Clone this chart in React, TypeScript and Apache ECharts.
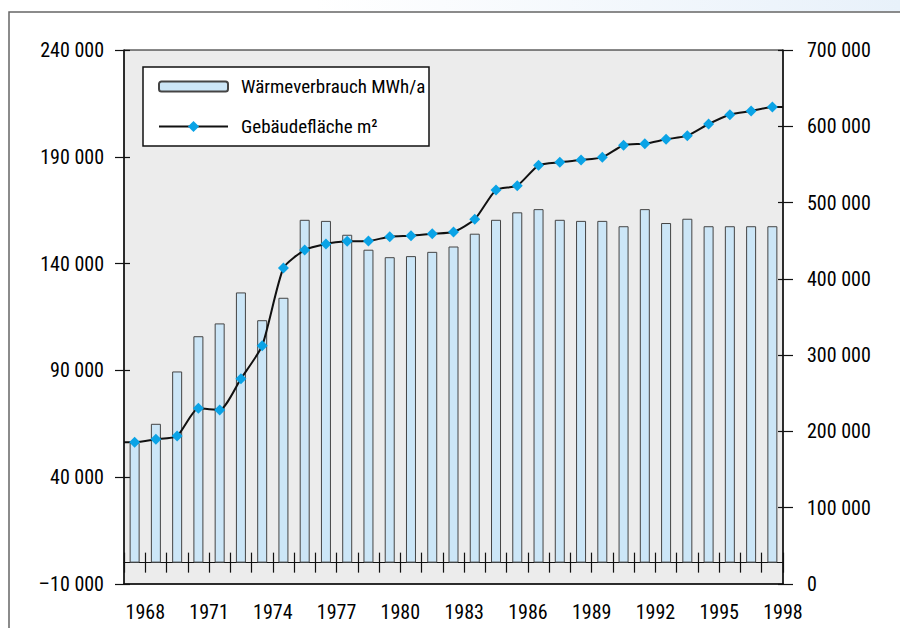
import React, { useEffect, useRef } from "react";
import * as echarts from "echarts";

// ---- data ----
const years = [
  1968, 1969, 1970, 1971, 1972, 1973, 1974, 1975, 1976, 1977, 1978, 1979, 1980, 1981, 1982, 1983,
  1984, 1985, 1986, 1987, 1988, 1989, 1990, 1991, 1992, 1993, 1994, 1995, 1996, 1997, 1998,
];
const heatMWh = [
  56000, 65000, 89500, 106000, 112000, 126500, 113500, 124000, 160500, 160000, 153500, 146500,
  143000, 143500, 145500, 148000, 154000, 160500, 164000, 165500, 160500, 160000, 160000, 157500,
  165500, 159000, 161000, 157500, 157500, 157500, 157500,
];
const floorArea = [
  185800, 189700, 194000, 230300, 228100, 269200, 312400, 414200, 437800, 445700, 449200, 449600,
  455300, 456600, 459200, 461400, 478100, 516500, 522200, 548800, 552800, 555800, 559300, 575100,
  577200, 582900, 587700, 603000, 615200, 620000, 625300,
];
const xTickLabels = ["1968", "1971", "1974", "1977", "1980", "1983", "1986", "1989", "1992", "1995", "1998"];
const leftTickLabels = ["–10 000", "40 000", "90 000", "140 000", "190 000", "240 000"];
const leftMin = -10000;
const leftMax = 240000;
const rightMin = 0;
const rightMax = 700000;
const rightInterval = 100000;
const xMin = 1967;
const xMax = 1998;

const seriesNames = ["Wärmeverbrauch MWh/a", "Gebäudefläche m²"];

const FONT = "'Roboto Condensed', 'Liberation Sans Narrow', 'DejaVu Sans Condensed', sans-serif";

const fmtThousands = (v: number) => String(v).replace(/\B(?=(\d{3})+(?!\d))/g, " ");

export default function App() {
  const ref = useRef<HTMLDivElement>(null);

  useEffect(() => {
    if (!ref.current) return;
    const chart = echarts.init(ref.current, undefined, { renderer: "svg" });

    const barData = years.map((y, i) => [y - 0.5, heatMWh[i]]);
    const lineData: any[] = [
      { value: [xMin, floorArea[0]], symbol: "none" },
      ...years.map((y, i) => [y - 0.5, floorArea[i]]),
      { value: [xMax, floorArea[floorArea.length - 1]], symbol: "none" },
    ];

    const labelStyle = { color: "#000", fontFamily: FONT, fontSize: 20 };
    const legendText = { color: "#000", fontFamily: FONT, fontSize: 19, padding: [0, 0, 0, 8] };

    const option: any = {
      animation: false,
      backgroundColor: "#ffffff",
      textStyle: { fontFamily: FONT },
      graphic: [
        {
          type: "rect",
          z: 0,
          silent: true,
          shape: { x: 0, y: 0, width: 900, height: 11.5 },
          style: {
            fill: new echarts.graphic.LinearGradient(0, 0, 1, 0, [
              { offset: 0, color: "#ffffff" },
              { offset: 0.35, color: "#ffffff" },
              { offset: 1, color: "#e8f1fa" },
            ]),
          },
        },
        {
          type: "rect",
          z: 0,
          silent: true,
          shape: { x: 9, y: 12, width: 1000, height: 1000 },
          style: { fill: "none", stroke: "#666", lineWidth: 1.5 },
        },
        {
          type: "rect",
          z: 3,
          silent: true,
          shape: { x: 143, y: 67, width: 286, height: 79 },
          style: { fill: "#ffffff", stroke: "#111", lineWidth: 1.5 },
        },
      ],
      grid: {
        left: 124,
        right: 117,
        top: 50,
        bottom: 44,
        show: true,
        backgroundColor: "#ececec",
        borderColor: "#111",
        borderWidth: 1,
        containLabel: false,
      },
      legend: [
        {
          data: [seriesNames[0]],
          left: 158,
          top: 77,
          itemWidth: 69,
          itemHeight: 10,
          itemGap: 0,
          padding: 0,
          textStyle: legendText,
          selectedMode: false,
        },
        {
          data: [seriesNames[1]],
          left: 158,
          top: 117,
          itemWidth: 69,
          itemHeight: 14,
          itemGap: 0,
          padding: 0,
          textStyle: legendText,
          selectedMode: false,
        },
      ],
      xAxis: [
        {
          type: "value",
          min: xMin,
          max: xMax,
          interval: 1,
          position: "bottom",
          axisLine: { show: true, onZero: false, lineStyle: { color: "#111", width: 1.5 } },
          axisTick: { show: false },
          splitLine: { show: false },
          axisLabel: {
            ...labelStyle,
            margin: 18,
            formatter: (v: number) => (xTickLabels.includes(String(v)) ? String(v) : ""),
          },
        },
        {
          type: "value",
          min: xMin,
          max: xMax,
          interval: 1,
          position: "bottom",
          axisLine: { show: true, onZero: true, onZeroAxisIndex: 0, lineStyle: { color: "#111", width: 1.2 } },
          axisTick: { show: true, inside: true, length: 10, lineStyle: { color: "#111", width: 1.2 } },
          splitLine: { show: false },
          axisLabel: { show: false },
        },
        {
          type: "value",
          min: xMin,
          max: xMax,
          interval: 1,
          position: "bottom",
          axisLine: { show: false, onZero: true, onZeroAxisIndex: 0 },
          axisTick: { show: true, inside: false, length: 10, lineStyle: { color: "#111", width: 1.2 } },
          splitLine: { show: false },
          axisLabel: { show: false },
        },
      ],
      yAxis: [
        {
          type: "value",
          min: leftMin,
          max: leftMax,
          show: false,
          splitLine: { show: false },
        },
        {
          type: "category",
          data: leftTickLabels,
          boundaryGap: false,
          position: "left",
          axisLine: { show: true, onZero: false, lineStyle: { color: "#111", width: 1.5 } },
          axisTick: { show: true, inside: false, length: 9, lineStyle: { color: "#111", width: 1.2 } },
          splitLine: { show: false },
          axisLabel: { ...labelStyle, margin: 20, interval: 0 },
        },
        {
          type: "category",
          data: leftTickLabels,
          boundaryGap: false,
          position: "left",
          axisLine: { show: false, onZero: false },
          axisTick: { show: true, inside: true, length: 6, lineStyle: { color: "#111", width: 1.2 } },
          splitLine: { show: false },
          axisLabel: { show: false },
        },
        {
          type: "value",
          min: rightMin,
          max: rightMax,
          interval: rightInterval,
          position: "right",
          axisLine: { show: true, onZero: false, lineStyle: { color: "#111", width: 1.5 } },
          axisTick: { show: true, inside: false, length: 10, lineStyle: { color: "#111", width: 1.2 } },
          splitLine: { show: false },
          axisLabel: { ...labelStyle, margin: 24, formatter: (v: number) => fmtThousands(v) },
        },
        {
          type: "value",
          min: rightMin,
          max: rightMax,
          interval: rightInterval,
          position: "right",
          axisLine: { show: false, onZero: false },
          axisTick: { show: true, inside: true, length: 5, lineStyle: { color: "#111", width: 1.2 } },
          splitLine: { show: false },
          axisLabel: { show: false },
        },
      ],
      series: [
        {
          name: seriesNames[0],
          type: "bar",
          xAxisIndex: 0,
          yAxisIndex: 0,
          barWidth: 10,
          data: barData,
          itemStyle: { color: "#cce6f7", borderColor: "#444", borderWidth: 1 },
          z: 2,
        },
        {
          name: seriesNames[1],
          type: "line",
          xAxisIndex: 0,
          yAxisIndex: 3,
          data: lineData,
          smooth: 0.2,
          symbol: "diamond",
          symbolSize: 11,
          itemStyle: { color: "#0aa3e6" },
          lineStyle: { color: "#111", width: 2 },
          z: 3,
        },
      ],
    };

    chart.setOption(option);
    return () => chart.dispose();
  }, []);

  return (
    <div
      ref={ref}
      style={{ position: "fixed", left: 0, top: 0, width: 900, height: 628 }}
    />
  );
}
